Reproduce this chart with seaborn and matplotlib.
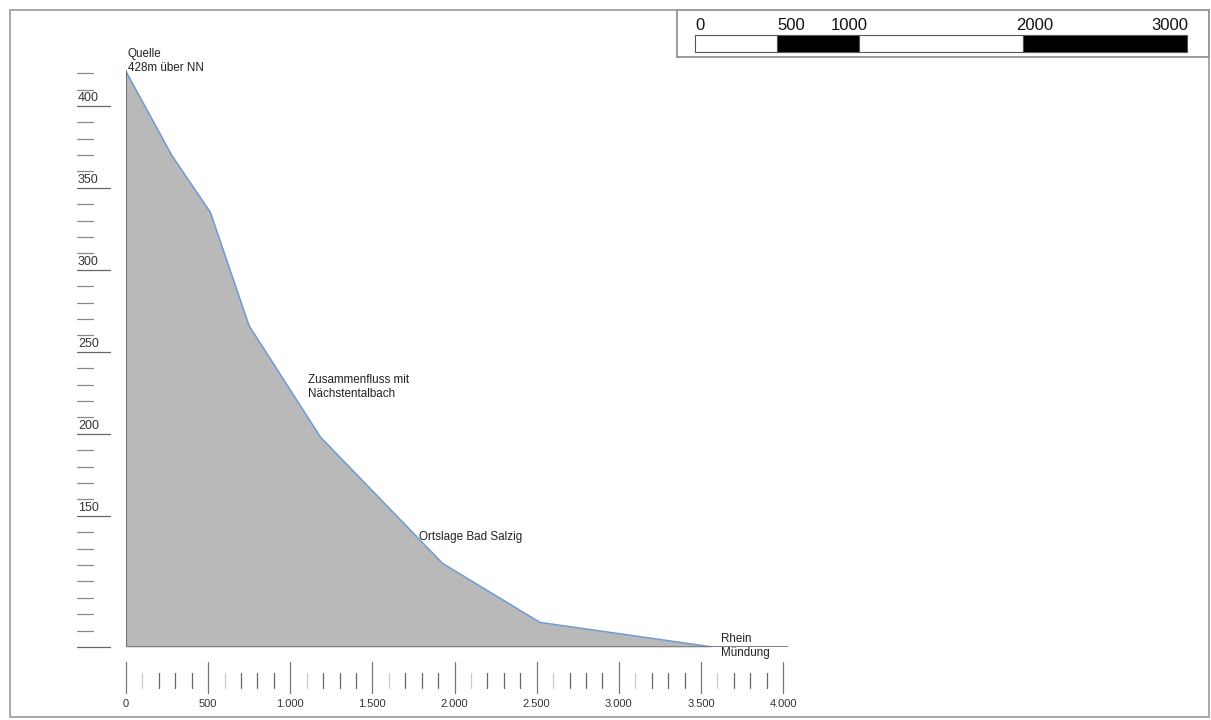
import matplotlib
matplotlib.use("Agg")
import matplotlib.pyplot as plt
import seaborn as sns
import pandas as pd
from matplotlib.patches import Rectangle

# river profile (distance from source in m, elevation in m)
distance = [0, 278, 514, 749, 1184, 1927, 2520, 3571, 4030]
elevation = [421, 370, 335, 266, 198, 121, 85, 70, 70]

y_ruler_ticks = list(range(70, 421, 10))
y_labels = [150, 200, 250, 300, 350, 400]
x_ruler_ticks = list(range(0, 4001, 100))
x_labels = [0, 500, 1000, 1500, 2000, 2500, 3000, 3500, 4000]
x_label_text = ["0", "500", "1.000", "1.500", "2.000", "2.500", "3.000", "3.500", "4.000"]

scale_edges = [0, 500, 1000, 2000, 3000]
scale_colors = ["white", "black", "white", "black"]
scale_text = ["0", "500", "1000", "2000", "3000"]

annotations = [
    (12, 427.5, "Quelle\n428m über NN"),
    (1106, 228.5, "Zusammenfluss mit\nNächstentalbach"),
    (1782, 137, "Ortslage Bad Salzig"),
    (3625, 70.5, "Rhein\nMündung"),
]

sns.set_style("white")
plt.rcParams["font.family"] = ["Liberation Sans", "DejaVu Sans"]

W, H = 1211, 720
fig = plt.figure(figsize=(W / 100, H / 100), dpi=100)

# outer frame
fig.patches.append(Rectangle((10 / W, 3 / H), 1199 / W, 707 / H, transform=fig.transFigure,
                             fill=False, edgecolor="#9a9a9a", lw=1.2))

ax = fig.add_axes([126 / W, (H - 647) / H, 662 / W, 587 / H])
df = pd.DataFrame({"distance": distance, "elevation": elevation})
ax.fill_between(df["distance"], df["elevation"], 70, color="#b9b9b9", lw=0)
sns.lineplot(data=df, x="distance", y="elevation", ax=ax, color="#6c9bd2",
             lw=1.1, estimator=None, sort=False)
ax.set_xlim(0, 4030)
ax.set_ylim(70, 428)
for s in ax.spines.values():
    s.set_visible(False)
ax.axvline(distance[0], ymax=(elevation[0] - 70) / 358, color="#555555", lw=1.2)
ax.axhline(70, color="#7a7a7a", lw=1.2)
ax.set_xticks([])
ax.set_yticks([])
ax.set_xlabel("")
ax.set_ylabel("")

# left elevation ruler
ytr = ax.get_yaxis_transform()
for v in y_ruler_ticks:
    long = v in y_labels or v == 70
    ax.plot([-0.074, -0.0242 if long else -0.0498], [v, v], transform=ytr,
            color="#666666" if long else "#8a8a8a", lw=0.9, clip_on=False)
for v in y_labels:
    ax.text(-0.0725, v + 1.2, str(v), transform=ytr, ha="left", va="bottom",
            fontsize=9, color="#333333")

# bottom distance ruler
xtr = ax.get_xaxis_transform()
for v in x_ruler_ticks:
    if v in x_labels:
        ax.plot([v, v], [-0.0256, -0.0784], transform=xtr, color="#777777", lw=0.9, clip_on=False)
    else:
        ax.plot([v, v], [-0.0443, -0.0698], transform=xtr,
                color="#cccccc" if v % 500 == 100 else "#666666", lw=0.9, clip_on=False)
for v, t in zip(x_labels, x_label_text):
    ax.text(v, -0.097, t, transform=xtr, ha="center", va="center", fontsize=8, color="#333333")

for x, y, t in annotations:
    ax.text(x, y, t, ha="left", va="center", fontsize=8.4, color="#222222", linespacing=1.25)

# scale bar box
sax = fig.add_axes([677 / W, (H - 57) / H, (1209 - 677) / W, 47 / H])
sax.set_xlim(-110, 3134)
sax.set_ylim(0, 1)
for s in sax.spines.values():
    s.set_edgecolor("#8a8a8a")
    s.set_linewidth(1.2)
sax.set_xticks([])
sax.set_yticks([])
sax.barh(0.287, [b - a for a, b in zip(scale_edges[:-1], scale_edges[1:])], left=scale_edges[:-1],
         height=0.362, color=scale_colors, edgecolor="#555555", lw=0.8)
has = ["left", "left", "center", "left", "right"]
offs = [0, 0, -60, -40, 10]
for v, t, ha, o in zip(scale_edges, scale_text, has, offs):
    sax.text(v + o, 0.5, t, ha=ha, va="bottom", fontsize=12, color="#111111")

fig.savefig("out.png", dpi=100)
